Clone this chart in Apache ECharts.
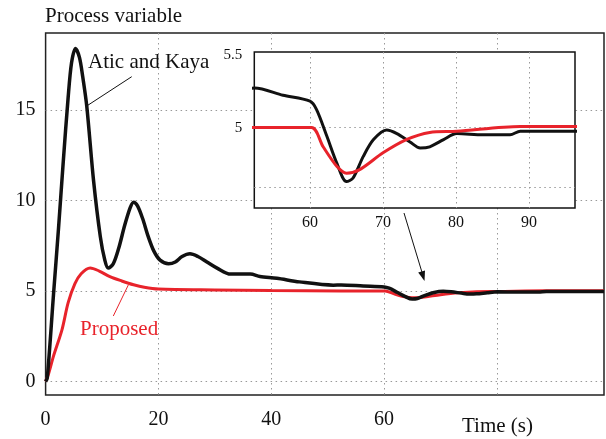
<!DOCTYPE html>
<html>
<head>
<meta charset="utf-8">
<script src="https://cdn.jsdelivr.net/npm/echarts@6/dist/echarts.min.js"></script>
<style>
  html, body { margin: 0; padding: 0; background: #fff; }
  #chart { width: 606px; height: 439px; }
</style>
</head>
<body>
<div id="chart"></div>
<script>
// Atic and Kaya response (time s, process variable)
var akTime = [0, 0.3, 1.4, 2.3, 3.1, 4.0, 4.6, 5.3, 6.0, 6.6, 7.3, 8.5, 9.7, 10.5, 11.1, 12.0, 13.0, 14.0, 15.0, 15.6, 16.3, 17.2, 18.2, 19.2, 20.3, 21.8, 23.0, 24.2, 25.6, 27.0, 28.6, 30.4, 32.8, 36.3, 38.0, 41.0, 45.0, 51.0, 52.4, 56.3, 60.0, 60.9, 62.3, 63.7, 65.0, 65.9, 67.3, 68.7, 70.5, 71.9, 73.7, 75.1, 76.4, 78.3, 80.1, 83.7, 87.4, 88.8, 96.3, 99];
var akValue = [0, 0.2, 4.8, 8.5, 12.0, 15.7, 17.6, 18.4, 17.9, 16.8, 15.2, 11.1, 8.0, 6.7, 6.26, 6.5, 7.4, 8.6, 9.6, 9.9, 9.7, 9.0, 8.0, 7.2, 6.7, 6.5, 6.6, 6.9, 7.05, 6.9, 6.6, 6.26, 5.93, 5.93, 5.8, 5.7, 5.5, 5.32, 5.33, 5.27, 5.22, 5.15, 4.93, 4.70, 4.55, 4.58, 4.76, 4.90, 4.98, 4.95, 4.88, 4.83, 4.84, 4.90, 4.95, 4.94, 4.94, 4.97, 4.97, 4.97];

// Proposed response
var propTime = [0, 0.5, 1.4, 2.9, 4.0, 5.2, 6.3, 7.9, 9.5, 11.4, 13.5, 15.6, 17.5, 20, 30, 40, 52.4, 60.2, 61.8, 63.7, 65.0, 66.8, 70.0, 73.2, 76.4, 80.1, 88.8, 96.3, 99];
var propValue = [0, 0.4, 1.4, 2.85, 4.35, 5.4, 5.95, 6.27, 6.1, 5.79, 5.55, 5.34, 5.2, 5.1, 5.05, 5.02, 5.0, 5.0, 4.84, 4.675, 4.62, 4.65, 4.79, 4.90, 4.96, 4.97, 5.01, 5.01, 5.01];

// tick labels
var mainXLabels = [0, 20, 40, 60];
var mainYLabels = [0, 5, 10, 15];
var insetXLabels = [60, 70, 80, 90];
var insetYLabels = [5, 5.5];
var insetGridY = [4.5, 5];

var serif = '"Liberation Serif", "DejaVu Serif", serif';
var red = '#e8232b';
var dots = [1.5, 3.5];

function pairs(t, v) {
    var out = [];
    for (var i = 0; i < t.length; i++) {
        out.push([t[i], v[i]]);
    }
    return out;
}

var akData = pairs(akTime, akValue);
var propData = pairs(propTime, propValue);

var myChart = echarts.init(document.getElementById('chart'));

var option = {
    animation: false,
    backgroundColor: '#fff',
    grid: [
        { left: 45.6, top: 33, width: 558.4, height: 362, show: true, borderColor: '#222', borderWidth: 1.5, backgroundColor: 'transparent' },
        { left: 254.3, top: 52, width: 320.7, height: 156, show: true, borderColor: '#111', borderWidth: 1.5, backgroundColor: '#fff', z: 3 }
    ],
    xAxis: [
        {
            gridIndex: 0, type: 'value', min: 0, max: 99, splitNumber: 5,
            axisLine: { show: false }, axisTick: { show: false },
            splitLine: { show: true, showMinLine: false, showMaxLine: false, lineStyle: { color: '#999', type: dots } },
            axisLabel: {
                margin: 15, color: '#111', fontFamily: serif, fontSize: 20,
                showMinLabel: true, showMaxLabel: false,
                formatter: function (v) { return mainXLabels.indexOf(v) >= 0 ? String(v) : ''; }
            }
        },
        {
            gridIndex: 1, type: 'value', min: 52.37, max: 96.3, splitNumber: 5, z: 4,
            axisLine: { show: false }, axisTick: { show: false },
            splitLine: { show: true, showMinLine: false, showMaxLine: false, lineStyle: { color: '#999', type: dots } },
            axisLabel: {
                margin: 7, color: '#111', fontFamily: serif, fontSize: 16,
                showMinLabel: false, showMaxLabel: false,
                formatter: function (v) { return insetXLabels.indexOf(v) >= 0 ? String(v) : ''; }
            }
        }
    ],
    yAxis: [
        {
            gridIndex: 0, type: 'value', min: -0.75, max: 19.25, splitNumber: 4,
            axisLine: { show: false }, axisTick: { show: false },
            splitLine: { show: true, showMinLine: false, showMaxLine: false, lineStyle: { color: '#999', type: dots } },
            axisLabel: {
                margin: 10, color: '#111', fontFamily: serif, fontSize: 20,
                showMinLabel: false, showMaxLabel: false,
                formatter: function (v) { return mainYLabels.indexOf(v) >= 0 ? String(v) : ''; }
            }
        },
        {
            gridIndex: 1, type: 'value', min: 4.33, max: 5.63, splitNumber: 3, z: 4,
            axisLine: { show: false }, axisTick: { show: false },
            splitLine: { show: false },
            axisLabel: {
                margin: 12, color: '#111', fontFamily: serif, fontSize: 15,
                showMinLabel: false, showMaxLabel: false,
                formatter: function (v) {
                    if (insetYLabels.indexOf(v) < 0) return '';
                    // the top label sits higher, at the box edge
                    return v === 5.5 ? '{top|5.5}' : String(v);
                },
                rich: { top: { fontFamily: serif, fontSize: 15, color: '#111', padding: [0, 0, 25, 0] } }
            }
        }
    ],
    series: [
        {
            name: 'Proposed', type: 'line', xAxisIndex: 0, yAxisIndex: 0,
            data: propData, showSymbol: false, smooth: 0.3, z: 2,
            lineStyle: { color: red, width: 3 }
        },
        {
            name: 'Atic and Kaya', type: 'line', xAxisIndex: 0, yAxisIndex: 0,
            data: akData, showSymbol: false, smooth: 0.3, z: 2,
            lineStyle: { color: '#111', width: 3.5 }
        },
        {
            name: 'Atic and Kaya (zoom)', type: 'line', xAxisIndex: 1, yAxisIndex: 1,
            data: akData, showSymbol: false, smooth: 0.3, z: 5, clip: true,
            lineStyle: { color: '#111', width: 3 },
            markLine: {
                silent: true, symbol: 'none', label: { show: false },
                lineStyle: { color: '#999', type: dots, width: 1 },
                data: insetGridY.map(function (v) { return { yAxis: v }; })
            }
        },
        {
            name: 'Proposed (zoom)', type: 'line', xAxisIndex: 1, yAxisIndex: 1,
            data: propData, showSymbol: false, smooth: 0.3, z: 6, clip: true,
            lineStyle: { color: red, width: 3 }
        }
    ],
    graphic: [
        { type: 'text', left: 45, top: 6, style: { text: 'Process variable', font: '21px ' + serif, fill: '#111' } },
        { type: 'text', left: 88, top: 52, z: 10, style: { text: 'Atic and Kaya', font: '21px ' + serif, fill: '#111' } },
        { type: 'line', z: 10, shape: { x1: 131.7, y1: 76.7, x2: 86.7, y2: 106 }, style: { stroke: '#111', lineWidth: 1 } },
        { type: 'text', left: 80, top: 319, z: 10, style: { text: 'Proposed', font: '21px ' + serif, fill: red } },
        { type: 'line', z: 10, shape: { x1: 128.3, y1: 285, x2: 113.3, y2: 316 }, style: { stroke: red, lineWidth: 1 } },
        { type: 'line', z: 10, shape: { x1: 404, y1: 213, x2: 422.5, y2: 274 }, style: { stroke: '#111', lineWidth: 1 } },
        { type: 'polygon', z: 10, shape: { points: [[424.5, 281], [425, 270.4], [418.2, 272.4]] }, style: { fill: '#111' } },
        { type: 'text', left: 462, top: 416, z: 10, style: { text: 'Time (s)', font: '21px ' + serif, fill: '#111' } }
    ]
};

myChart.setOption(option);
</script>
</body>
</html>
